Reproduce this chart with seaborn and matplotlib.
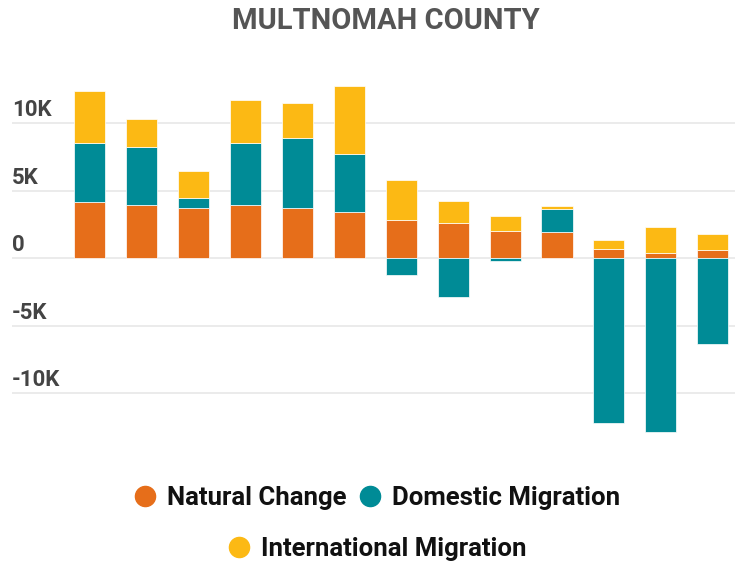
import matplotlib
matplotlib.use("Agg")
import matplotlib.pyplot as plt
import matplotlib.transforms as mtransforms
from matplotlib.lines import Line2D
import seaborn as sns

# data (people per year)
years = [2011, 2012, 2013, 2014, 2015, 2016, 2017, 2018, 2019, 2020, 2021, 2022, 2023]
natural = [4150, 3930, 3700, 3930, 3700, 3430, 2830, 2600, 2000, 1900, 670, 370, 560]
domestic = [4350, 4300, 750, 4600, 5200, 4300, -1250, -2850, -200, 1750, -12200, -12850, -6400]
international = [3900, 2100, 2000, 3200, 2600, 5050, 2970, 1600, 1150, 170, 680, 1900, 1190]

series = ["Natural Change", "Domestic Migration", "International Migration"]
colors = ["#E66E1A", "#008B96", "#FCB914"]
tick_vals = [-10000, -5000, 0, 5000, 10000]
tick_labels = ["-10K", "-5K", "0", "5K", "10K"]

sns.set_theme(style="white")
plt.rcParams["font.family"] = ["Roboto", "DejaVu Sans"]

fig = plt.figure(figsize=(7.35, 5.64), dpi=100)
ax = fig.add_axes([12 / 735, 1 - 460 / 564, 723 / 735, 400 / 564])

# stacking: positives pile up from zero, negative domestic hangs below
dom_bottom = [n if d >= 0 else 0 for n, d in zip(natural, domestic)]
int_bottom = [n + max(d, 0) for n, d in zip(natural, domestic)]

bar_kw = dict(width=0.6, errorbar=None, saturation=1, edgecolor="white", linewidth=0.5, ax=ax)
sns.barplot(x=years, y=natural, color=colors[0], **bar_kw)
sns.barplot(x=years, y=domestic, color=colors[1], bottom=dom_bottom, **bar_kw)
sns.barplot(x=years, y=international, color=colors[2], bottom=int_bottom, **bar_kw)

ax.set_xlim(-1.5, 12.43)
ax.set_ylim(-14960, 14670)
ax.set_yticks(tick_vals)
ax.yaxis.grid(True, color="#e8e8e8", linewidth=1.2)
ax.set_axisbelow(True)
ax.tick_params(axis="both", length=0, labelleft=False, labelbottom=False)
ax.set_xlabel("")
ax.set_ylabel("")
for s in ax.spines.values():
    s.set_visible(False)

# y labels sit just above their gridlines, inside the plot
lab_tr = mtransforms.offset_copy(ax.get_yaxis_transform(), fig=fig, x=0, y=7, units="dots")
for v, t in zip(tick_vals, tick_labels):
    ax.text(0, v, t, transform=lab_tr, ha="left", va="baseline",
            fontsize=16, fontweight="bold", color="#444444")

fig.text(386 / 735, 1 - 21 / 564, "MULTNOMAH COUNTY", ha="center", va="center",
         fontsize=21, fontweight="bold", color="#555555")

handles = [Line2D([], [], marker="o", ls="", color=c, markersize=14.5) for c in colors]
leg_kw = dict(loc="center", frameon=False, handlelength=1.0, handletextpad=0.35,
              columnspacing=0.4, prop={"size": 18.5, "weight": "bold"})
leg1 = fig.legend(handles[:2], series[:2], ncol=2, bbox_to_anchor=(376 / 735, 1 - 498 / 564), **leg_kw)
leg2 = fig.legend(handles[2:], series[2:], ncol=1, bbox_to_anchor=(376 / 735, 1 - 549 / 564), **leg_kw)
for leg in (leg1, leg2):
    for t in leg.get_texts():
        t.set_color("#111111")

fig.savefig("out.png", dpi=100)
